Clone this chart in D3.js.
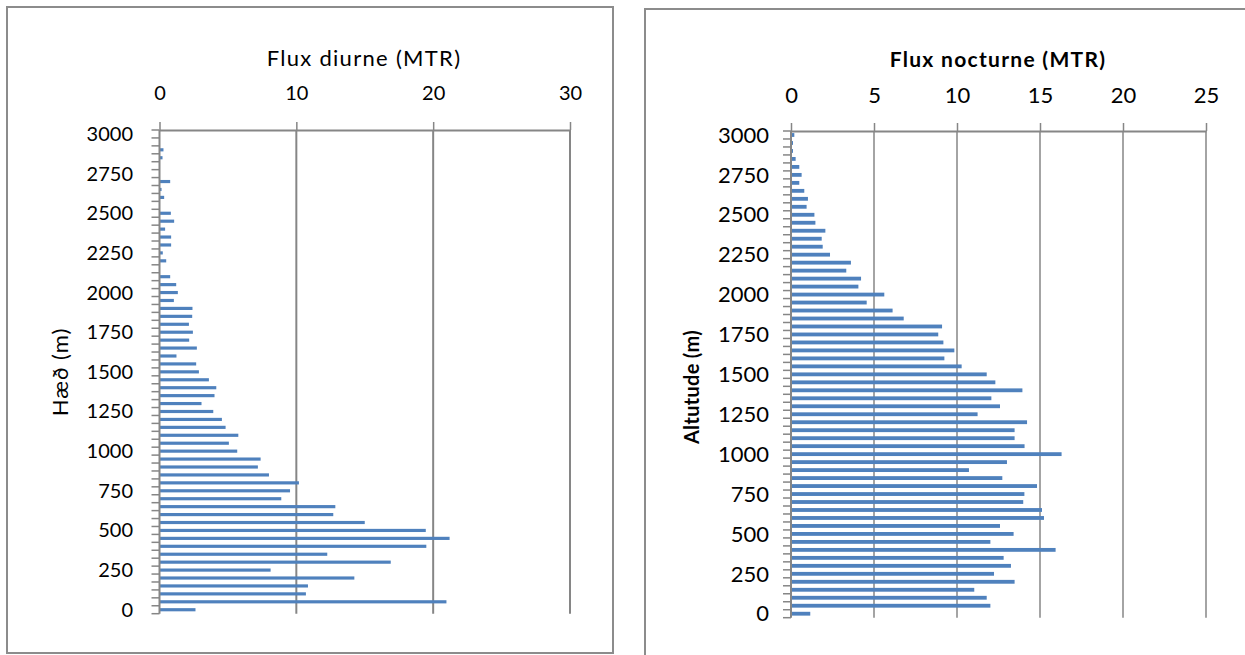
<!DOCTYPE html>
<html>
<head>
<meta charset="utf-8">
<script src="https://cdn.jsdelivr.net/npm/d3@7"></script>
<style>
  body { margin: 0; background: #fff; }
  svg { display: block; font-family: Lato, "Open Sans", sans-serif; }
</style>
</head>
<body>
<div id="chart"></div>
<script>
// altitude classes (m), bottom to top
var altitudes = [0,50,100,150,200,250,300,350,400,450,500,550,600,650,700,750,800,850,900,950,
  1000,1050,1100,1150,1200,1250,1300,1350,1400,1450,1500,1550,1600,1650,1700,1750,1800,1850,1900,1950,
  2000,2050,2100,2150,2200,2250,2300,2350,2400,2450,2500,2550,2600,2650,2700,2750,2800,2850,2900,2950,3000];

// day flux (MTR) per altitude class
var fluxDiurne = [2.63,20.97,10.7,10.85,14.24,8.12,16.9,12.26,19.5,21.2,19.46,15.0,12.7,12.85,8.9,9.54,10.19,8.0,7.19,7.39,
  5.68,5.07,5.76,4.83,4.56,3.93,3.07,4.02,4.15,3.61,2.88,2.68,1.24,2.73,2.17,2.44,2.15,2.39,2.41,1.05,
  1.34,1.22,0.78,0,0.49,0.24,0.85,0.85,0.41,1.07,0.83,0,0.34,0.15,0.78,0,0,0.22,0.29,0,0];

// night flux (MTR) per altitude class
var fluxNocturne = [1.16,12.01,11.79,11.04,13.47,12.23,13.25,12.81,15.94,12.01,13.41,12.59,15.24,15.12,13.99,14.06,14.82,12.73,10.72,13.01,
  16.3,14.07,13.47,13.47,14.22,11.24,12.59,12.07,13.94,12.31,11.79,10.28,9.24,9.84,9.18,8.87,9.1,6.79,6.12,4.56,
  5.62,4.06,4.22,3.33,3.61,2.35,1.91,1.85,2.07,1.47,1.41,0.94,1.02,0.8,0.5,0.64,0.5,0.28,0.12,0.12,0.2];

var altLabels = [0,250,500,750,1000,1250,1500,1750,2000,2250,2500,2750,3000];
var ticksDiurne = [0,10,20,30];
var ticksNocturne = [0,5,10,15,20,25];

var svg = d3.select("#chart").append("svg")
  .attr("width", 1245)
  .attr("height", 655);

var axisGrey = "#868686";
var barBlue = "#4f81bd";

// panel frames
svg.append("rect").attr("x", 7).attr("y", 7).attr("width", 606).attr("height", 646)
  .attr("fill", "none").attr("stroke", "#8c8c8c").attr("stroke-width", 2);
svg.append("rect").attr("x", 645).attr("y", 9).attr("width", 700).attr("height", 700)
  .attr("fill", "none").attr("stroke", "#8c8c8c").attr("stroke-width", 2);

function drawPanel(opt) {
  var x = d3.scaleLinear().domain([0, opt.max]).range([opt.left, opt.right]);
  var y = d3.scaleBand().domain(altitudes.slice().reverse()).range([opt.top, opt.bottom]);
  var g = svg.append("g");

  // vertical gridlines
  g.selectAll(".grid").data(opt.ticks.filter(d => d > 0)).enter()
    .append("line")
    .attr("x1", d => x(d)).attr("x2", d => x(d))
    .attr("y1", opt.top).attr("y2", opt.bottom)
    .attr("stroke", axisGrey).attr("stroke-width", opt.gridW);

  // bars
  var bh = y.bandwidth() * opt.barFrac;
  g.selectAll(".bar").data(altitudes).enter()
    .append("rect")
    .attr("x", x(0))
    .attr("y", d => y(d) + (y.bandwidth() - bh) / 2)
    .attr("width", (d, i) => x(opt.values[i]) - x(0))
    .attr("height", bh)
    .attr("fill", barBlue);

  // top value axis
  var top = g.append("g").attr("transform", `translate(0, ${opt.top})`)
    .call(d3.axisTop(x).tickValues(opt.ticks).tickSize(8).tickSizeOuter(0).tickPadding(opt.tickPad));
  top.select(".domain").attr("stroke", axisGrey).attr("stroke-width", 2);
  top.selectAll(".tick line").attr("stroke", axisGrey).attr("stroke-width", 1.5);
  top.selectAll("text").attr("font-size", opt.fs).attr("fill", "#000")
    .attr("font-family", "Lato, sans-serif");

  // left category axis line
  g.append("line").attr("x1", x(0)).attr("x2", x(0))
    .attr("y1", opt.top).attr("y2", opt.bottom)
    .attr("stroke", axisGrey).attr("stroke-width", 2);

  // category tick marks between bands
  var edges = altitudes.map(d => y(d)).concat([opt.bottom]);
  g.selectAll(".ctick").data(edges).enter()
    .append("line")
    .attr("x1", x(0) - 8).attr("x2", x(0))
    .attr("y1", d => d).attr("y2", d => d)
    .attr("stroke", axisGrey).attr("stroke-width", 1.5);

  // altitude labels
  g.selectAll(".alab").data(altLabels).enter()
    .append("text")
    .attr("x", opt.labelRight)
    .attr("y", d => y(d) + y.bandwidth() / 2)
    .attr("dy", "0.35em")
    .attr("text-anchor", "end")
    .attr("font-size", opt.fs)
    .text(d => d);

  // titles
  g.append("text")
    .attr("x", opt.titleX).attr("y", opt.titleY)
    .attr("text-anchor", "middle")
    .attr("dy", "0.35em")
    .attr("font-size", opt.titleFs)
    .attr("letter-spacing", opt.titleLs)
    .attr("font-weight", opt.bold ? "bold" : "normal")
    .text(opt.title);

  g.append("text")
    .attr("transform", `translate(${opt.yTitleX}, ${opt.yTitleY}) rotate(-90)`)
    .attr("text-anchor", "middle")
    .attr("dy", "0.35em")
    .attr("font-size", opt.yTitleFs)
    .attr("letter-spacing", opt.yTitleLs)
    .attr("font-weight", opt.bold ? "bold" : "normal")
    .text(opt.yTitle);
}

drawPanel({
  values: fluxDiurne, max: 30, ticks: ticksDiurne,
  left: 159.5, right: 570, top: 130, bottom: 613.7,
  barFrac: 0.4, gridW: 2, fs: 20, tickPad: 22, bold: false,
  labelRight: 133,
  title: "Flux diurne (MTR)", titleX: 364, titleY: 58, titleFs: 22, titleLs: 1.3,
  yTitle: "Hæð (m)", yTitleX: 60, yTitleY: 372, yTitleFs: 22, yTitleLs: 1
});

drawPanel({
  values: fluxNocturne, max: 25, ticks: ticksNocturne,
  left: 791, right: 1206, top: 131, bottom: 617.7,
  barFrac: 0.48, gridW: 1.5, fs: 22, tickPad: 20, bold: true,
  labelRight: 769,
  title: "Flux nocturne (MTR)", titleX: 998, titleY: 60, titleFs: 21, titleLs: 1.3,
  yTitle: "Altutude (m)", yTitleX: 692, yTitleY: 387, yTitleFs: 20, yTitleLs: 0.3
});

// tick labels are not bold
svg.selectAll("g.tick text").attr("font-weight", "normal");
</script>
</body>
</html>
